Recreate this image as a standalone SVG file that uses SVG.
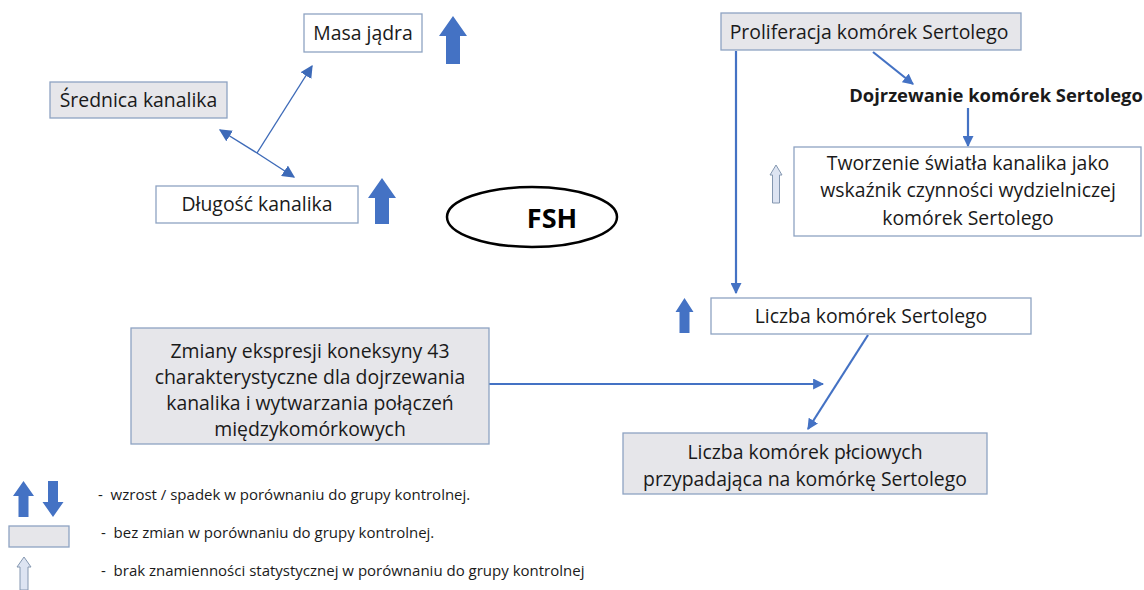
<svg xmlns="http://www.w3.org/2000/svg" width="1144" height="590" viewBox="0 0 1144 590">
<defs>
<style>
.box{stroke:#8ea3c2;stroke-width:1.3}
.w{fill:#ffffff}
.g{fill:#e6e6ea}
.t{font-family:"Open Sans","Liberation Sans",sans-serif;font-size:19.4px;fill:#1a1a1a}
.c{text-anchor:middle}
.b{font-weight:bold}
.lg{font-family:"Open Sans","Liberation Sans",sans-serif;font-size:15px;fill:#1a1a1a;white-space:pre}
.ba{fill:#4472c4}
.ha{fill:#dde4f2;stroke:#8497b0;stroke-width:1}
.ln{stroke:#4472c4;stroke-width:2.2;fill:none}
.ln2{stroke:#3d6ab8;stroke-width:1.4;fill:none}
</style>
<marker id="ah" viewBox="0 0 10 10" refX="9" refY="5" markerWidth="5" markerHeight="5" orient="auto" markerUnits="strokeWidth">
<path d="M0,0 L10,5 L0,10 Z" fill="#4472c4"/>
</marker>
<marker id="ah2" viewBox="0 0 10 10" refX="9" refY="5" markerWidth="9" markerHeight="9" orient="auto" markerUnits="strokeWidth">
<path d="M0,0 L10,5 L0,10 Z" fill="#3d6ab8"/>
</marker>
</defs>
<rect width="1144" height="590" fill="#ffffff"/>

<g id="connectors">
<line class="ln2" x1="257" y1="153" x2="312" y2="66" marker-end="url(#ah2)"/>
<line class="ln2" x1="257" y1="153" x2="220" y2="130" marker-end="url(#ah2)"/>
<line class="ln2" x1="257" y1="153" x2="294" y2="177" marker-end="url(#ah2)"/>
<line class="ln" x1="873" y1="52" x2="913" y2="84" marker-end="url(#ah)"/>
<line class="ln" x1="968" y1="108" x2="968" y2="146" marker-end="url(#ah)"/>
<line class="ln" x1="736" y1="51" x2="736" y2="293" marker-end="url(#ah)"/>
<line class="ln" x1="868" y1="335" x2="808" y2="429" marker-end="url(#ah)"/>
<line class="ln" x1="488" y1="384" x2="823" y2="384" marker-end="url(#ah)"/>
</g>

<g id="masa">
<rect class="box w" x="304" y="14" width="118" height="38"/>
<text class="t c" x="363" y="39.5">Masa jądra</text>
<path class="ba" d="M453,16 L467,36 L460,36 L460,64 L446,64 L446,36 L439,36 Z"/>
</g>

<g id="srednica">
<rect class="box g" x="50" y="82" width="177" height="36"/>
<text class="t c" x="138.5" y="106.5">Średnica kanalika</text>
</g>

<g id="dlugosc">
<rect class="box w" x="156" y="186" width="202" height="37"/>
<text class="t c" x="257" y="211">Długość kanalika</text>
<path class="ba" d="M382,178 L396,198 L389,198 L389,224 L375,224 L375,198 L368,198 Z"/>
</g>

<g id="fsh">
<ellipse cx="532" cy="217" rx="85" ry="30" fill="#ffffff" stroke="#000000" stroke-width="2.5"/>
<text class="c b" x="552" y="228" font-family="'Open Sans','Liberation Sans',sans-serif" font-size="27" fill="#000000">FSH</text>
</g>

<g id="proliferacja">
<rect class="box g" x="721" y="13" width="300" height="37"/>
<text class="t c" x="869" y="38.5">Proliferacja komórek Sertolego</text>
</g>

<g id="dojrzewanie">
<text class="t c b" x="996" y="102" style="font-size:18.4px">Dojrzewanie komórek Sertolego</text>
</g>

<g id="tworzenie">
<rect class="box w" x="794" y="147" width="347" height="89"/>
<text class="t c" x="968" y="170">Tworzenie światła kanalika jako</text>
<text class="t c" x="968" y="197">wskaźnik czynności wydzielniczej</text>
<text class="t c" x="968" y="225">komórek Sertolego</text>
<path class="ha" d="M776,165 L782,175 L779.5,175 L779.5,203 L772.5,203 L772.5,175 L770,175 Z"/>
</g>

<g id="liczba">
<rect class="box w" x="711" y="298" width="320" height="36"/>
<text class="t c" x="871" y="323">Liczba komórek Sertolego</text>
<path class="ba" d="M684.5,298 L693.5,312 L689.5,312 L689.5,333 L679.5,333 L679.5,312 L675.5,312 Z"/>
</g>

<g id="zmiany">
<rect class="box g" x="131" y="328" width="358" height="116"/>
<text class="t c" x="310" y="358">Zmiany ekspresji koneksyny 43</text>
<text class="t c" x="310" y="384">charakterystyczne dla dojrzewania</text>
<text class="t c" x="310" y="410">kanalika i wytwarzania połączeń</text>
<text class="t c" x="310" y="436">międzykomórkowych</text>
</g>

<g id="plciowe">
<rect class="box g" x="623" y="433" width="364" height="61"/>
<text class="t c" x="805" y="459">Liczba komórek płciowych</text>
<text class="t c" x="805" y="486">przypadająca na komórkę Sertolego</text>
</g>

<g id="legend">
<path class="ba" d="M23.5,481 L34,496 L28.5,496 L28.5,517 L18.5,517 L18.5,496 L13,496 Z"/>
<path class="ba" d="M53,517 L63.5,502 L58,502 L58,481 L48,481 L48,502 L42.5,502 Z"/>
<rect class="box g" x="9" y="526" width="60" height="21"/>
<path class="ha" d="M24,557 L31,567 L28,567 L28,590 L20,590 L20,567 L17,567 Z"/>
<text class="lg" x="98" y="500">-  wzrost / spadek w porównaniu do grupy kontrolnej.</text>
<text class="lg" x="101" y="538">-  bez zmian w porównaniu do grupy kontrolnej.</text>
<text class="lg" x="101" y="576">-  brak znamienności statystycznej w porównaniu do grupy kontrolnej</text>
</g>
</svg>
